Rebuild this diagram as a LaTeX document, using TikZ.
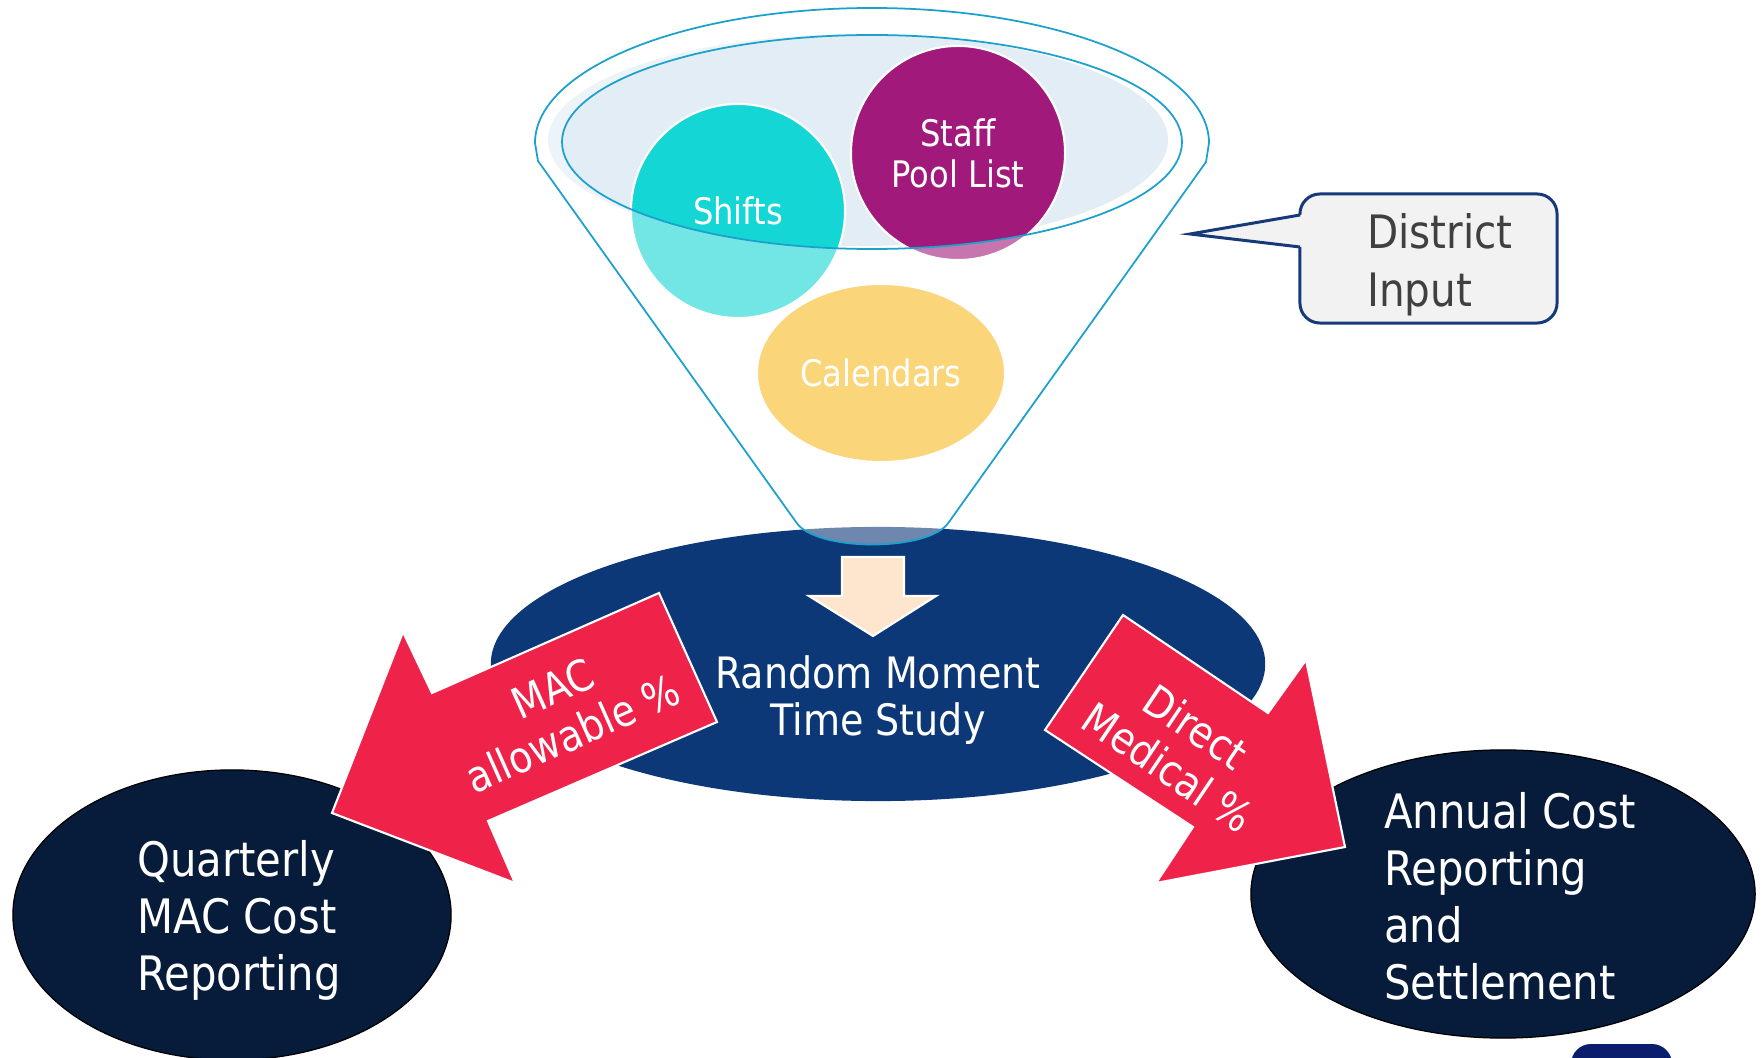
\documentclass[tikz,border=0pt]{standalone}
\usepackage{fontspec}
\setmainfont{DejaVu Sans}
\newfontfamily\tahoma{DejaVu Sans}[FakeStretch=0.88]
\usetikzlibrary{shapes.geometric}

\definecolor{rmtsblue}{HTML}{0D3878}
\definecolor{ovalnavy}{HTML}{071B3A}
\definecolor{rimfill}{HTML}{E2EDF5}
\definecolor{funnelline}{HTML}{1BA1CC}
\definecolor{shiftcyan}{HTML}{14D6D4}
\definecolor{staffpurple}{HTML}{A0197B}
\definecolor{calgold}{HTML}{F7B921}
\definecolor{peach}{HTML}{FDE6CD}
\definecolor{arrowred}{HTML}{EF2349}
\definecolor{calloutgray}{HTML}{F2F2F2}
\definecolor{calloutblue}{HTML}{17397A}
\definecolor{textgray}{HTML}{404040}
\definecolor{navybox}{HTML}{0B1E6E}

\tikzset{
  oval/.style = {ellipse, inner sep=0pt, outer sep=0pt},
  bubble/.style = {circle, draw=white, line width=0.6pt, minimum size=2.14cm,
    inner sep=0pt, outer sep=0pt, text=white, align=center,
    font=\tahoma\fontsize{10.4}{11.7}\selectfont},
  midtext/.style = {inner sep=0pt, text=white, align=center,
    font=\tahoma\fontsize{12.3}{13.2}\selectfont},
  arrowtext/.style = {inner sep=0pt, text=white, align=center,
    font=\tahoma\fontsize{12.3}{14}\selectfont},
  ovaltext/.style = {inner sep=0pt, text=white, align=left,
    font=\tahoma\fontsize{13.5}{16.2}\selectfont},
  redarrow/.style = {fill=arrowred, draw=white, line width=0.6pt, line join=miter},
  funnel/.style = {draw=funnelline, line width=0.5pt}
}

\begin{document}
\begin{tikzpicture}[x=0.01cm,y=-0.01cm]
\useasboundingbox (0,0) rectangle (1763,1058);

% study oval, lies under the funnel
\node[oval, fill=rmtsblue, minimum width=7.74cm, minimum height=2.74cm] (rmts) at (878,664) {};

% rim of the funnel
\fill[rimfill] (858,140) ellipse [x radius=310, y radius=106];

% inputs
\node[bubble, fill=shiftcyan] (shifts) at (738,211) {Shifts};
\node[bubble, fill=staffpurple] (staff) at (958,153) {Staff\\Pool List};
\node[bubble, ellipse, fill=calgold, minimum width=2.48cm, minimum height=1.78cm] (calendars) at (881,373) {Calendars};

% funnel corners
\coordinate (fTL) at (535,143);
\coordinate (fL)  at (538,161);
\coordinate (fBL) at (796,522);
\coordinate (fBR) at (949,522);
\coordinate (fR)  at (1206,162);
\coordinate (fTR) at (1209,143);

% glass front of the funnel
\begin{scope}
  \clip (fTL) -- (fL) -- (fBL) .. controls (815,552) and (930,552) .. (fBR) -- (fR) -- (fTR)
    arc [start angle=0, end angle=-180, x radius=337, y radius=135] -- cycle;
  \fill[white, fill opacity=0.4, even odd rule] (0,0) rectangle (1763,1058)
    (872,142) ellipse [x radius=310, y radius=107];
\end{scope}

% funnel outline
\draw[funnel] (fTL) -- (fL) -- (fBL) .. controls (815,552) and (930,552) .. (fBR) -- (fR) -- (fTR)
  arc [start angle=0, end angle=-180, x radius=337, y radius=135];
\draw[funnel] (872,142) ellipse [x radius=310, y radius=107];

% arrow into the study
\filldraw[fill=peach, draw=white, line width=0.6pt] (842,557) -- (904,557) -- (904,596) -- (936,596)
  -- (873,636) -- (809,596) -- (842,596) -- cycle;
\node[midtext] (rmtstext) at (878,700) {Random Moment\\Time Study};

% reporting ovals
\node[oval, fill=ovalnavy, draw=black, line width=0.35pt, minimum width=4.38cm, minimum height=2.90cm] (qmac) at (232,915) {};
\node[ovaltext] (qmactext) at (239,920) {Quarterly\\MAC Cost\\Reporting};
\node[oval, fill=ovalnavy, draw=black, line width=0.35pt, minimum width=5.04cm, minimum height=2.88cm] (acrs) at (1503,894) {};
\node[ovaltext] (acrstext) at (1510,896) {Annual Cost\\Reporting\\and\\Settlement};

% red block arrows
\filldraw[redarrow] (659,593) -- (717,722) -- (488,821) -- (515,883) -- (332,813) -- (403,632) -- (432,693) -- cycle;
\node[arrowtext, rotate=24] (mac) at (563,711) {MAC\\allowable \%};
\filldraw[redarrow] (1123,615) -- (1268,713) -- (1306,660) -- (1345,847) -- (1156,883) -- (1193,827) -- (1045,730) -- cycle;
\node[arrowtext, rotate=-34] (dm) at (1182,747) {Direct\\Medical \%};

% district input callout
\node[draw=calloutblue, fill=calloutgray, line width=0.85pt, rounded corners=0.2cm,
  minimum width=2.57cm, minimum height=1.29cm, inner sep=0pt] (callbox) at (1428.5,258.5) {};
\coordinate (tip) at (1190,234);
\fill[calloutgray] (1302,215) -- (tip) -- (1302,247) -- cycle;
\draw[calloutblue, line width=0.85pt] (1300,215) -- (tip) -- (1300,247);
\node[inner sep=0pt, text=textgray, align=left, font=\tahoma\fontsize{13.1}{16.5}\selectfont] (district) at (1440,265) {District\\Input};

% corner of the next box
\fill[navybox, rounded corners=0.2cm] (1571,1044) rectangle (1672,1120);
\end{tikzpicture}
\end{document}
